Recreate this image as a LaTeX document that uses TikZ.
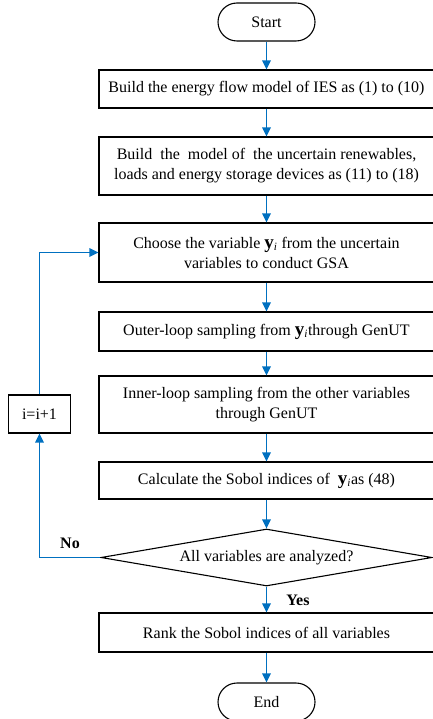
\documentclass[tikz,border=0pt]{standalone}
\usepackage{fontspec}
\setmainfont{Liberation Serif}
\usetikzlibrary{arrows.meta,shapes.geometric}
\definecolor{flowblue}{RGB}{0,112,192}
\begin{document}
\begin{tikzpicture}[x=1pt,y=-1pt,
  box/.style={draw=black,line width=1.1pt,rectangle,minimum width=335pt,inner sep=2pt,align=center,font=\fontsize{16}{20}\selectfont},
  term/.style={draw=black,line width=1.1pt,rectangle,rounded corners=19pt,minimum width=97pt,minimum height=38pt,inner sep=0pt,font=\fontsize{16}{20}\selectfont},
  arr/.style={draw=flowblue,line width=1.7pt,-{Triangle[length=9pt,width=8.5pt]}},
  lbl/.style={font=\fontsize{16}{20}\selectfont\bfseries}]
\useasboundingbox (0,0) rectangle (432,719);
\newcommand{\yi}{\textbf{\fontsize{19}{20}\selectfont y}\textsubscript{\itshape i}}
\node[term] (start) at (266.5,22) {Start};
\node[box,minimum height=38pt] (b1) at (266.5,89) {Build the energy flow model of IES as (1) to (10)};
\node[box,minimum height=58pt] (b2) at (266.5,166) {Build\ \ the\ \ model of\ \ the uncertain renewables,\\loads and energy storage devices as (11) to (18)};
\node[box,minimum height=59pt] (b3) at (266.5,252.5) {Choose the variable \yi{} from the uncertain\\variables to conduct GSA};
\node[box,minimum height=39pt] (b4) at (266.5,331.5) {Outer-loop sampling from \yi{}through GenUT};
\node[box,minimum height=57pt] (b5) at (266.5,404.5) {Inner-loop sampling from the other variables\\through GenUT};
\node[box,minimum height=37pt] (b6) at (266.5,480.5) {Calculate the Sobol indices of \ \yi{}as (48)};
\node[draw=black,line width=1.1pt,diamond,aspect=5.8,inner sep=0pt,minimum width=331pt,minimum height=57pt,font=\fontsize{16}{20}\selectfont] (dia) at (266.5,557.5) {All variables are analyzed?};
\node[box,minimum height=39pt] (b7) at (266.5,632.5) {Rank the Sobol indices of all variables};
\node[term] (end) at (266.5,702) {End};
\node[draw=black,line width=1.1pt,rectangle,minimum width=62pt,minimum height=38pt,inner sep=0pt,font=\fontsize{16}{20}\selectfont] (inc) at (39.5,414) {i=i+1};
\node[lbl] (no) at (70,543) {No};
\node[lbl] (yes) at (298,600) {Yes};
\draw[arr] (start) -- (b1);
\draw[arr] (b1) -- (b2);
\draw[arr] (b2) -- (b3);
\draw[arr] (b3) -- (b4);
\draw[arr] (b4) -- (b5);
\draw[arr] (b5) -- (b6);
\draw[arr] (b6) -- (dia);
\draw[arr] (dia) -- (b7);
\draw[arr] (b7) -- (end);
\draw[arr] (dia.west) -- (inc.south |- dia.west) -- (inc.south);
\draw[arr] (inc.north) |- (b3.west);
\end{tikzpicture}
\end{document}
